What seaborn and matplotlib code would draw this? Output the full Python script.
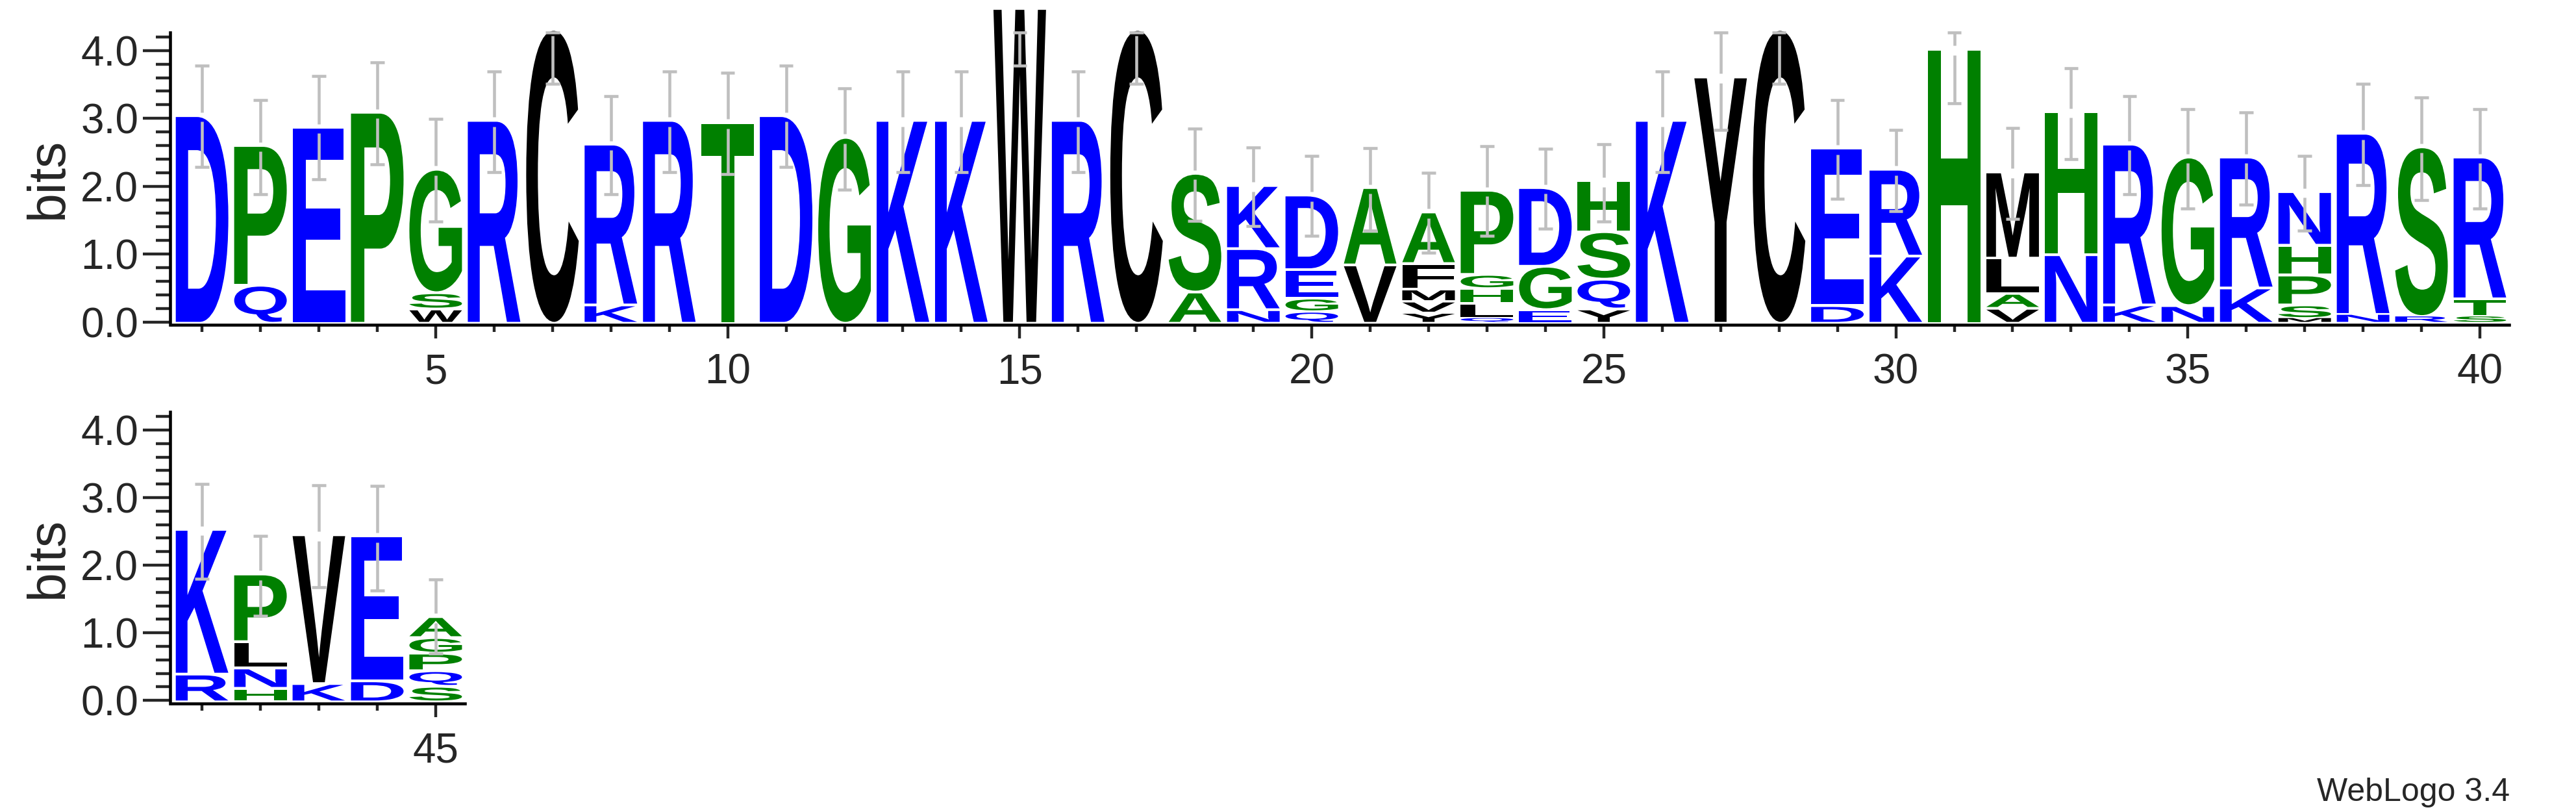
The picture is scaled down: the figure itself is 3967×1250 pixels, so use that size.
import pandas as pd
import seaborn as sns
import matplotlib
matplotlib.use("Agg")
import matplotlib.pyplot as plt
import matplotlib.transforms as mtransforms
from matplotlib.textpath import TextPath
from matplotlib.patches import PathPatch
from matplotlib.font_manager import FontProperties
from matplotlib.ticker import MultipleLocator, FixedLocator

sns.set_style("ticks")
plt.rcParams['font.family'] = ['Liberation Sans', 'DejaVu Sans']

# datos del logo: letras de abajo hacia arriba, alturas en bits
positions = list(range(1, 46))
stack_letters = [
    "D", "QP", "E", "P", "WSG", "R", "C", "KR", "R", "T",
    "D", "G", "K", "K", "W", "R", "C", "AS", "NRK", "QGED",
    "VA", "YVMFA", "QLHGP", "EGD", "YQSH", "K", "Y", "C", "DE", "KR",
    "H", "VALM", "NH", "KR", "NG", "KR", "MSPHN", "NR", "RS", "STR",
    "RK", "HNLP", "KV", "DE", "SQPGA",
]
stack_bits = [
    [3.02], [0.56, 2.02], [2.85], [3.07], [0.21, 0.24, 1.78],
    [2.95], [4.29], [0.27, 2.33], [2.95], [2.92],
    [3.02], [2.70], [2.95], [2.95], [4.60],
    [2.95], [4.29], [0.46, 1.71], [0.20, 0.90, 0.89], [0.17, 0.20, 0.42, 1.06],
    [0.86, 1.10], [0.15, 0.17, 0.18, 0.38, 0.72], [0.07, 0.22, 0.22, 0.21, 1.20],
    [0.20, 0.64, 1.12], [0.21, 0.44, 0.70, 0.71],
    [2.95], [3.59], [4.29], [0.26, 2.28], [0.99, 1.24],
    [4.00], [0.22, 0.22, 0.52, 1.23], [1.01, 2.07], [0.27, 2.33], [0.26, 2.15],
    [0.52, 1.89], [0.07, 0.20, 0.44, 0.44, 0.75], [0.13, 2.63], [0.10, 2.46],
    [0.10, 0.26, 2.05],
    [0.41, 2.10], [0.20, 0.30, 0.39, 0.96], [0.27, 2.16], [0.31, 2.10],
    [0.23, 0.23, 0.26, 0.23, 0.27],
]
err_low = [
    2.28, 1.88, 2.10, 2.32, 1.48, 2.21, 3.51, 1.88, 2.21, 2.18,
    2.28, 1.95, 2.21, 2.21, 3.78, 2.21, 3.51, 1.49, 1.41, 1.27,
    1.35, 1.02, 1.27, 1.37, 1.48, 2.21, 2.83, 3.51, 1.81, 1.63,
    3.22, 1.52, 2.40, 1.88, 1.67, 1.73, 1.35, 2.02, 1.80, 1.67,
    1.80, 1.25, 1.67, 1.63, 0.69,
]
err_high = [
    3.78, 3.27, 3.62, 3.83, 2.99, 3.69, 4.27, 3.33, 3.69, 3.67,
    3.78, 3.44, 3.69, 3.69, 4.27, 3.69, 4.27, 2.85, 2.57, 2.45,
    2.56, 2.20, 2.59, 2.55, 2.62, 3.69, 4.27, 4.27, 3.27, 2.83,
    4.27, 2.86, 3.74, 3.33, 3.14, 3.09, 2.45, 3.51, 3.31, 3.14,
    3.20, 2.43, 3.18, 3.17, 1.79,
]

# esquema de color "hydrophobicity" de WebLogo
colores = {}
for aa in "RKDENQ":
    colores[aa] = "#0000ff"
for aa in "SGHTAP":
    colores[aa] = "#008000"
for aa in "YVMCLFIW":
    colores[aa] = "#000000"

# tabla larga con la base de cada letra
filas = []
for pos, letras, alturas in zip(positions, stack_letters, stack_bits):
    base = 0.0
    for i, (letra, h) in enumerate(zip(letras, alturas)):
        filas.append({"pos": pos, "letra": letra, "base": base, "bits": h,
                      "arriba": i == len(letras) - 1})
        base += h
df = pd.DataFrame(filas)
tops = df.groupby("pos")["bits"].sum()

fuente_letra = FontProperties(family="Liberation Sans", weight="bold")


def dibujar_letra(ax, letra, x, y0, h, ancho=0.9):
    tp = TextPath((0, 0), letra, size=1, prop=fuente_letra)
    bb = tp.get_extents()
    tr = (mtransforms.Affine2D()
          .translate(-bb.x0, -bb.y0)
          .scale(ancho / bb.width, h / bb.height)
          .translate(x - ancho / 2, y0))
    ax.add_patch(PathPatch(tr.transform_path(tp), facecolor=colores[letra],
                           edgecolor="none", clip_on=False, zorder=2))


def dibujar_fila(ax, primera, ultima):
    sub = df[(df["pos"] >= primera) & (df["pos"] <= ultima)]
    for _, r in sub.iterrows():
        h = r["bits"]
        if not r["arriba"]:
            h = h - min(0.04, 0.2 * h)   # pequeño hueco entre letras apiladas
        dibujar_letra(ax, r["letra"], r["pos"], r["base"], h)
    # barras de error (con hueco alrededor de la cima de la pila)
    gris = "#bfbfbf"
    hueco = 0.07
    for p in range(primera, ultima + 1):
        top = tops[p]
        lo, hi = err_low[p - 1], err_high[p - 1]
        if hi > top + hueco:
            ax.vlines(p, top + hueco, hi, color=gris, lw=3.3, zorder=3, clip_on=False)
        if top - hueco > lo:
            ax.vlines(p, lo, min(top - hueco, hi), color=gris, lw=3.3, zorder=3, clip_on=False)
        ax.hlines([lo, hi], p - 0.12, p + 0.12, color=gris, lw=3.3, zorder=3, clip_on=False)

    ax.set_xlim(primera - 0.5, ultima + 0.5)
    ax.set_ylim(-0.045, 4.27)
    ax.xaxis.set_major_locator(FixedLocator([p for p in range(primera, ultima + 1) if p % 5 == 0]))
    ax.xaxis.set_minor_locator(MultipleLocator(1))
    ax.yaxis.set_major_locator(MultipleLocator(1))
    ax.yaxis.set_minor_locator(MultipleLocator(0.2))
    ax.yaxis.set_major_formatter(matplotlib.ticker.FormatStrFormatter("%.1f"))
    ax.tick_params(axis="x", which="major", length=15, width=3.2, pad=16, labelsize=46)
    ax.tick_params(axis="x", which="minor", length=7.7, width=3.2)
    ax.tick_params(axis="y", which="major", length=30, width=3.2, pad=5.5, labelsize=46)
    ax.tick_params(axis="y", which="minor", length=15.5, width=3.2)
    for lado in ["top", "right"]:
        ax.spines[lado].set_visible(False)
    for lado in ["left", "bottom"]:
        ax.spines[lado].set_linewidth(3.3)
        ax.spines[lado].set_color("black")
    ax.spines["left"].set_position(("outward", 2.7))
    ax.patch.set_alpha(0)
    trans = mtransforms.blended_transform_factory(ax.figure.transFigure, ax.transAxes)
    ax.text(0.0189, 0.5, "bits", rotation=90, ha="center", va="center",
            fontsize=58, transform=trans)


fig = plt.figure(figsize=(39.67, 12.5), dpi=100)
ax1 = fig.add_axes([0.06710, 0.59984, 0.90693, 0.36048])
ax2 = fig.add_axes([0.06710, 0.13360, 0.11337, 0.35937])
dibujar_fila(ax1, 1, 40)
dibujar_fila(ax2, 41, 45)

fig.text(0.97429, 0.0136, "WebLogo 3.4", ha="right", va="baseline", fontsize=36)

plt.savefig("out.png", dpi=100, facecolor="white")
